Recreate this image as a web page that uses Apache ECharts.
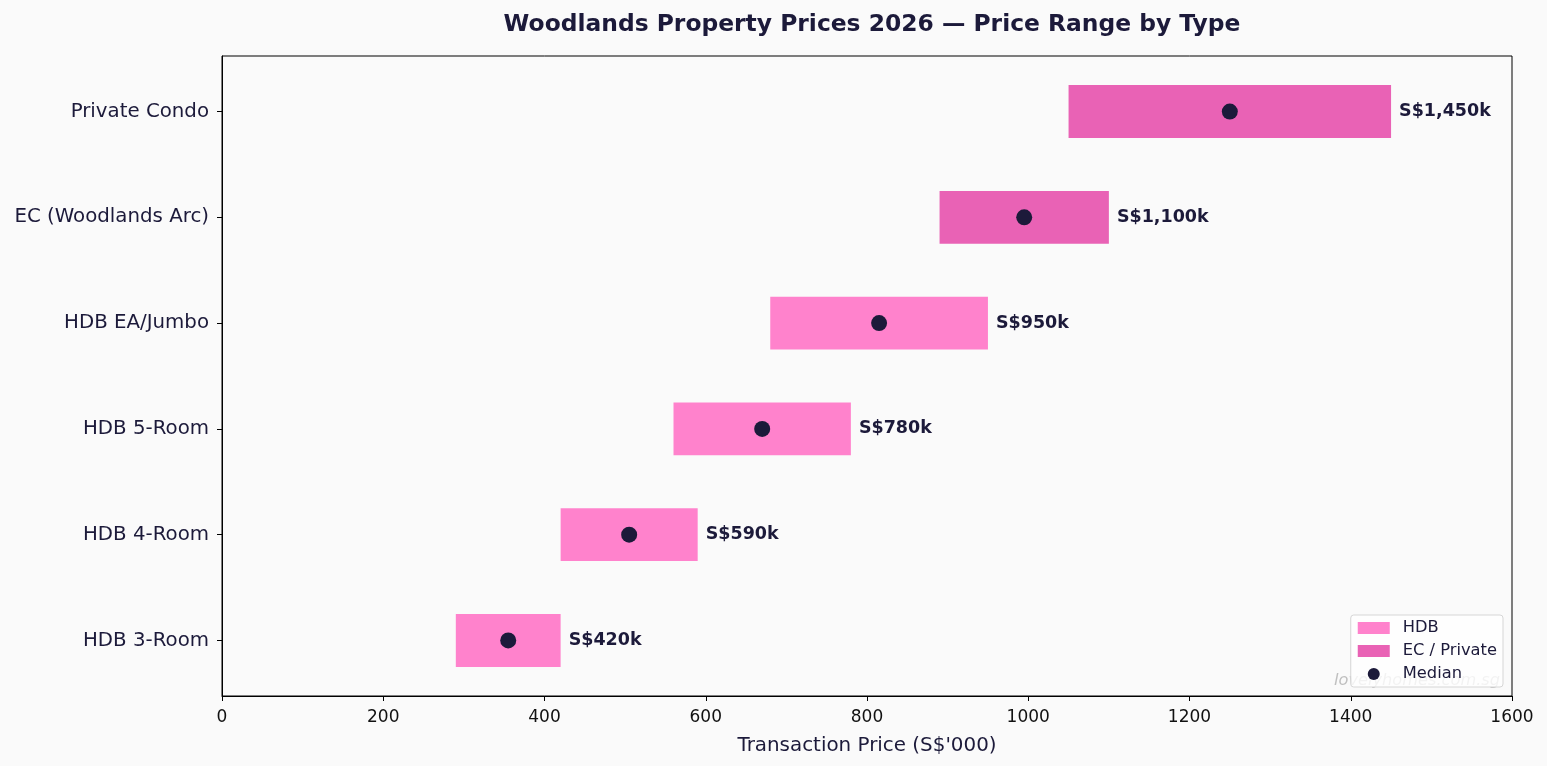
<!DOCTYPE html>
<html>
<head>
<meta charset="utf-8">
<script src="https://cdn.jsdelivr.net/npm/echarts@6/dist/echarts.min.js"></script>
<style>
  html, body { margin: 0; padding: 0; background: #fafafa; }
  #main { width: 1547px; height: 766px; }
</style>
</head>
<body>
<div id="main"></div>
<script>
// property types, bottom to top
const categories = ['HDB 3-Room', 'HDB 4-Room', 'HDB 5-Room', 'HDB EA/Jumbo', 'EC (Woodlands Arc)', 'Private Condo'];
const lowPrice = [290, 420, 560, 680, 890, 1050];
const highPrice = [420, 590, 780, 950, 1100, 1450];
const medianPrice = [355, 505, 670, 815, 995, 1250];
const isHdb = [true, true, true, true, false, false];

const hdbColor = '#ff82cc';
const ecColor = '#e962b5';
const ink = '#1c1a3a';
const font = 'DejaVu Sans';

const fmtK = v => 'S$' + v.toLocaleString('en-US') + 'k';

const hdbRows = [];
const ecRows = [];
categories.forEach((c, i) => {
  (isHdb[i] ? hdbRows : ecRows).push([i, lowPrice[i], highPrice[i]]);
});
const catIdx = categories.map((c, i) => i);

// horizontal range bar, half a category tall
const renderRange = color => (params, api) => {
  const i = api.value(0);
  const a = api.coord([api.value(1), i]);
  const b = api.coord([api.value(2), i]);
  const h = api.size([0, 0.5])[1];
  return {
    type: 'rect',
    shape: { x: a[0], y: a[1] - h / 2, width: b[0] - a[0], height: h },
    style: { fill: color },
    textContent: {
      style: {
        text: fmtK(api.value(2)),
        fontFamily: font, fontWeight: 'bold', fontSize: 17.5, fill: ink
      }
    },
    textConfig: { position: 'right', distance: 8 }
  };
};

let myChart = echarts.init(document.getElementById('main'));
let option = {
  backgroundColor: '#fafafa',
  animation: false,
  title: {
    text: 'Woodlands Property Prices 2026 — Price Range by Type',
    left: 867,
    top: 8,
    textAlign: 'center',
    textStyle: { fontFamily: font, fontSize: 23.4, fontWeight: 'bold', color: ink }
  },
  grid: {
    left: 222, right: 35, top: 56, bottom: 70,
    show: true, borderColor: '#000', borderWidth: 1, backgroundColor: 'transparent'
  },
  legend: {
    right: 44, bottom: 79,
    orient: 'vertical',
    itemGap: 3,
    itemWidth: 32, itemHeight: 12,
    padding: [3, 6, 3, 7],
    backgroundColor: 'rgba(255,255,255,0.8)',
    borderColor: '#d6d6d6', borderWidth: 1, borderRadius: 3,
    textStyle: { fontFamily: font, fontSize: 16.3, lineHeight: 20, color: ink, padding: [0, 0, 0, 8] },
    data: [
      { name: 'HDB', icon: 'rect', itemStyle: { color: hdbColor } },
      { name: 'EC / Private', icon: 'rect', itemStyle: { color: ecColor } },
      { name: 'Median', icon: 'path://M0,6.5a6.5,6.5 0 1,0 13,0a6.5,6.5 0 1,0 -13,0z', itemStyle: { color: ink } }
    ]
  },
  xAxis: {
    type: 'value',
    min: 0, max: 1600, interval: 200,
    name: "Transaction Price (S$'000)",
    nameLocation: 'middle',
    nameGap: 40,
    nameTextStyle: { fontFamily: font, fontSize: 19.9, color: ink },
    axisLine: { show: true, onZero: false, lineStyle: { color: '#000' } },
    axisTick: { show: true, length: 5, lineStyle: { color: '#000' } },
    axisLabel: { fontFamily: font, fontSize: 17, color: '#111', margin: 13, formatter: v => String(v) },
    splitLine: { show: false }
  },
  yAxis: {
    type: 'value',
    min: -0.525, max: 5.525,
    axisLine: { show: true, onZero: false, lineStyle: { color: '#000' } },
    axisTick: { show: true, length: 5, customValues: catIdx, lineStyle: { color: '#000' } },
    axisLabel: {
      fontFamily: font, fontSize: 19.8, color: ink, margin: 13,
      customValues: catIdx,
      formatter: v => categories[Math.round(v)] || ''
    },
    splitLine: { show: false }
  },
  series: [
    {
      name: 'HDB', type: 'custom',
      itemStyle: { color: hdbColor },
      encode: { x: [1, 2], y: 0 },
      renderItem: renderRange(hdbColor),
      data: hdbRows
    },
    {
      name: 'EC / Private', type: 'custom',
      itemStyle: { color: ecColor },
      encode: { x: [1, 2], y: 0 },
      renderItem: renderRange(ecColor),
      data: ecRows
    },
    {
      name: 'Median', type: 'scatter',
      symbol: 'circle', symbolSize: 16,
      itemStyle: { color: ink, opacity: 1 },
      z: 5,
      data: medianPrice.map((v, i) => [v, i])
    }
  ],
  graphic: [{
    type: 'text',
    right: 47, top: 673,
    z: 0,
    style: {
      text: 'lovelyhomes.com.sg',
      fontFamily: font, fontStyle: 'italic', fontSize: 16.2,
      fill: 'rgba(120,120,120,0.45)'
    }
  }]
};
myChart.setOption(option);
window.onresize = function () {
  myChart.resize();
};
</script>
</body>
</html>
